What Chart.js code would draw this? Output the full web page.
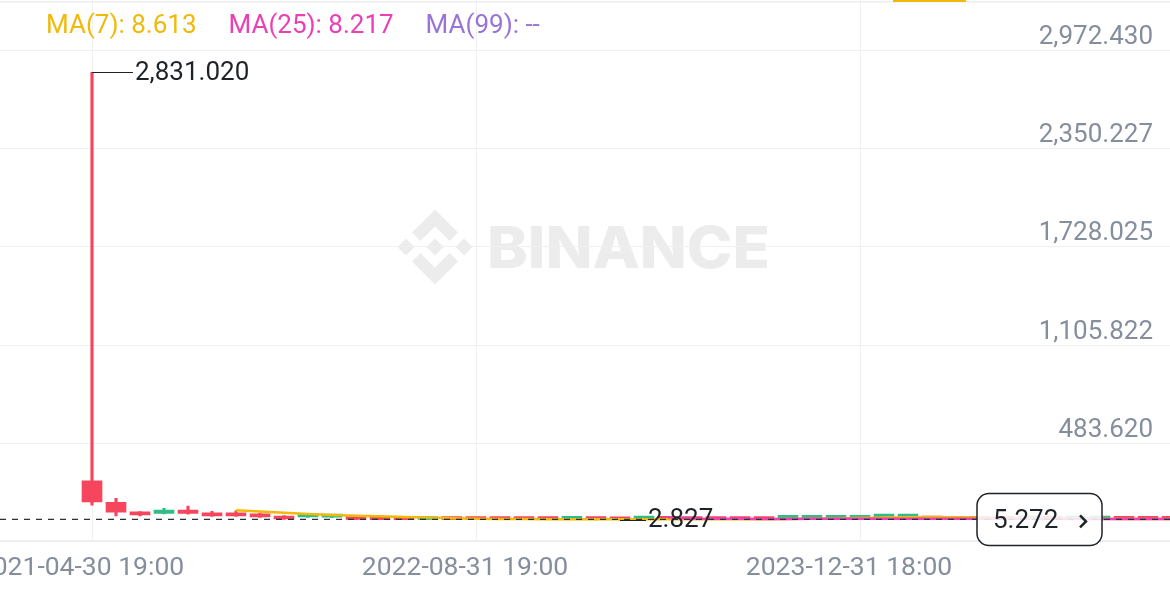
<!DOCTYPE html>
<html lang="en">
<head>
    <meta charset="UTF-8">
    <title>Monthly candles</title>
    <style>
        html, body {
            margin: 0;
            padding: 0;
            background: #fff;
        }
        .wrap {
            position: relative;
            width: 1170px;
            height: 605px;
        }
    </style>
</head>
<body>
    <div class="wrap"><canvas id="chart"></canvas></div>

    <script src="https://cdn.jsdelivr.net/npm/chart.js@4.4.1/dist/chart.umd.min.js"></script>
    <script>
        // one candle per month, first one is 2021-05
        const months = [
            '2021-05', '2021-06', '2021-07', '2021-08', '2021-09', '2021-10', '2021-11', '2021-12',
            '2022-01', '2022-02', '2022-03', '2022-04', '2022-05', '2022-06', '2022-07', '2022-08',
            '2022-09', '2022-10', '2022-11', '2022-12', '2023-01', '2023-02', '2023-03', '2023-04',
            '2023-05', '2023-06', '2023-07', '2023-08', '2023-09', '2023-10', '2023-11', '2023-12',
            '2024-01', '2024-02', '2024-03', '2024-04', '2024-05', '2024-06', '2024-07', '2024-08',
            '2024-09', '2024-10', '2024-11', '2024-12', '2025-01', '2025-02'
        ];
        const opens  = [249, 114, 49, 43, 64, 47, 47, 39, 25, 22, 20, 22, 12, 6, 5, 8, 7, 6.5, 6.2, 6, 6, 8, 6.5, 7,
                        8, 7, 6.8, 7, 6.5, 12, 13, 13, 12, 20, 21, 12, 10, 9, 8, 9, 8, 7, 8, 8, 7.5, 7];
        const highs  = [2831.02, 138, 55, 76, 89, 57, 60, 45, 30, 36, 30, 26, 14, 9, 16, 10, 9, 8, 8, 7.5, 20, 10, 8, 20,
                        12, 9, 8.5, 8, 7.5, 22, 23, 23, 18, 35, 36, 16, 13, 12, 11, 14, 12, 12, 20, 11, 10, 9];
        const lows   = [95, 28, 28, 40, 38, 25, 25, 18, 6, 18, 17, 4, 3.5, 3.2, 4.5, 3.5, 3.4, 3.3, 3.2, 3.1, 5, 3, 2.827, 6,
                        5, 4, 3.8, 3.5, 3.4, 11, 12, 12, 10, 15, 18, 5, 4.5, 4.5, 4.2, 5, 4.5, 5, 7, 4.5, 4.5, 4.2];
        const closes = [116, 51, 34, 64, 43, 28, 28, 22, 8, 32, 28, 5, 4, 4.2, 14, 4.5, 4.2, 4, 4, 3.8, 18, 4, 3.5, 17,
                        6, 5, 4.6, 4, 3.8, 20, 21, 21, 15, 31, 32, 7, 6, 6, 5.5, 10, 6, 9, 16, 6, 5.8, 5.272];

        // moving averages as shown, MA(7) from the 7th candle, MA(25) from the 25th
        const ma7 = [64, 55, 47, 40, 34, 29, 25, 21.5, 17, 13, 10, 8.5, 7.5, 7, 7, 6.5, 6.5, 7, 7,
                     7, 6.5, 6, 6, 8, 10, 12, 14, 17, 19, 20, 19, 17, 15, 12, 10, 9, 9, 8.8, 8.7, 8.6];
        const ma25 = [19, 12, 10, 9, 8.5, 8.5, 9, 9, 9, 9.5, 10, 10, 10, 9.8, 9.5, 9.2, 9, 8.8, 8.8, 8.5, 8.3, 8.2];

        const yTicks = [483.620, 1105.822, 1728.025, 2350.227, 2972.430];
        const xTickIdx = [0, 16, 32];
        const xTickLabels = ['2021-04-30 19:00', '2022-08-31 19:00', '2023-12-31 18:00'];
        const lastPrice = 5.272;
        const maNames = ['MA(7)', 'MA(25)', 'MA(99)'];
        const maLast = ['8.613', '8.217', '--'];
        const maColors = ['#f0b90b', '#eb40b5', '#9a73d6'];

        const UP = '#2ebd85';
        const DOWN = '#f6465d';
        const DARK = '#1e2329';
        const GREY = '#848e9c';
        const FONT = 'Roboto, "Noto Sans", sans-serif';

        const candleColors = closes.map((c, i) => c >= opens[i] ? UP : DOWN);
        const bodies = opens.map((o, i) => ({ x: i, y: [o, closes[i]] }));
        const wicks = lows.map((l, i) => ({ x: i, y: [l, highs[i]] }));

        function fmt(v) {
            return v.toLocaleString('en-US', { minimumFractionDigits: 3, maximumFractionDigits: 3 });
        }

        // binance logo paths (126.61 unit box)
        const logoPaths = [
            'M38.73 53.2l24.59-24.58 24.6 24.6 14.3-14.31L63.32 0 24.42 38.9l14.31 14.3z',
            'M0 63.31l14.3-14.31 14.31 14.31-14.31 14.3z',
            'M38.73 73.41l24.59 24.59 24.6-24.6 14.31 14.29-38.9 38.91-38.91-38.88-.02-.02 14.33-14.29z',
            'M98 63.31l14.3-14.31 14.31 14.3-14.31 14.32z',
            'M77.83 63.3L63.32 48.78 52.59 59.51l-1.24 1.23-2.54 2.54-.02.02.02.03 14.51 14.5 14.51-14.52.01-.01-.01-.01z'
        ];

        const decor = {
            id: 'decor',
            beforeDraw(chart) {
                const ctx = chart.ctx;
                ctx.save();
                // watermark
                ctx.fillStyle = '#ececec';
                ctx.save();
                ctx.translate(397.5, 209.5);
                ctx.scale(75 / 126.61, 75 / 126.61);
                logoPaths.forEach(p => ctx.fill(new Path2D(p)));
                ctx.restore();
                ctx.font = '800 58px Inter, Lato, sans-serif';
                ctx.textBaseline = 'alphabetic';
                const w = ctx.measureText('BINANCE').width;
                ctx.save();
                ctx.translate(487, 268);
                ctx.scale(283 / w, 1);
                ctx.fillText('BINANCE', 0, 0);
                ctx.restore();
                // top border line
                ctx.fillStyle = '#eceef0';
                ctx.fillRect(0, 1, chart.width, 1.5);
                ctx.restore();
            },
            afterDraw(chart) {
                const ctx = chart.ctx;
                const xs = chart.scales.x;
                const ys = chart.scales.y;
                const area = chart.chartArea;
                ctx.save();

                // last price dashed line
                const yP = ys.getPixelForValue(lastPrice);
                ctx.strokeStyle = '#2b3139';
                ctx.lineWidth = 1.3;
                ctx.setLineDash([6, 6]);
                ctx.beginPath();
                ctx.moveTo(area.left, yP);
                ctx.lineTo(area.right, yP);
                ctx.stroke();
                ctx.setLineDash([]);

                // high / low markers
                ctx.font = '26px ' + FONT;
                ctx.textBaseline = 'middle';
                ctx.textAlign = 'left';
                ctx.fillStyle = DARK;
                ctx.strokeStyle = DARK;
                ctx.lineWidth = 1;
                const hi = Math.max(...highs);
                const hiIdx = highs.indexOf(hi);
                const xh = xs.getPixelForValue(hiIdx);
                const yh = ys.getPixelForValue(hi);
                ctx.beginPath();
                ctx.moveTo(xh, Math.round(yh) + 0.5);
                ctx.lineTo(xh + 41, Math.round(yh) + 0.5);
                ctx.stroke();
                ctx.fillText(fmt(hi), xh + 43, yh + 1);

                const lo = Math.min(...lows);
                const loIdx = lows.indexOf(lo);
                const xl = xs.getPixelForValue(loIdx);
                const yl = ys.getPixelForValue(lo);
                ctx.beginPath();
                ctx.moveTo(xl, Math.round(yl) + 0.5);
                ctx.lineTo(xl + 26, Math.round(yl) + 0.5);
                ctx.stroke();
                ctx.fillText(fmt(lo), xl + 28, yl + 1);

                // price box
                ctx.beginPath();
                ctx.roundRect(977, yP - 26, 125, 52, 12);
                ctx.fillStyle = 'rgba(255,255,255,0.85)';
                ctx.fill();
                ctx.lineWidth = 1.5;
                ctx.strokeStyle = DARK;
                ctx.stroke();
                ctx.fillStyle = DARK;
                ctx.fillText(fmt(lastPrice), 993, yP + 2);
                ctx.lineWidth = 2.5;
                ctx.beginPath();
                ctx.moveTo(1080, yP - 4);
                ctx.lineTo(1086, yP + 2);
                ctx.lineTo(1080, yP + 8);
                ctx.stroke();

                // price axis labels sit above their grid lines
                ctx.fillStyle = GREY;
                ctx.textAlign = 'right';
                yTicks.forEach(v => {
                    ctx.fillText(fmt(v), 1153, ys.getPixelForValue(v) - 13);
                });

                // MA legend
                ctx.textAlign = 'left';
                let lx = 46;
                maNames.forEach((n, i) => {
                    const t = n + ': ' + maLast[i];
                    ctx.fillStyle = maColors[i];
                    ctx.fillText(t, lx, 26);
                    lx += ctx.measureText(t).width + 32;
                });

                // tab marker at the top
                ctx.fillStyle = '#f0b90b';
                ctx.fillRect(893, 0, 73, 2);
                ctx.restore();
            }
        };

        const ctx = document.getElementById('chart').getContext('2d');
        new Chart(ctx, {
            type: 'bar',
            data: {
                datasets: [
                    {
                        type: 'line',
                        label: maNames[1],
                        data: ma25.map((v, i) => ({ x: i + 24, y: v })),
                        borderColor: maColors[1],
                        borderWidth: 2.5,
                        pointRadius: 0,
                        order: 0
                    },
                    {
                        type: 'line',
                        label: maNames[0],
                        data: ma7.map((v, i) => ({ x: i + 6, y: v })),
                        borderColor: maColors[0],
                        borderWidth: 2.5,
                        pointRadius: 0,
                        order: 1
                    },
                    {
                        label: 'body',
                        data: bodies,
                        backgroundColor: candleColors,
                        barThickness: 20,
                        minBarLength: 3,
                        grouped: false,
                        order: 2
                    },
                    {
                        label: 'wick',
                        data: wicks,
                        backgroundColor: candleColors,
                        barThickness: 2.5,
                        grouped: false,
                        order: 3
                    }
                ]
            },
            options: {
                responsive: true,
                maintainAspectRatio: false,
                animation: false,
                layout: {
                    autoPadding: false,
                    padding: { left: 0, right: 0, top: 0, bottom: 10 }
                },
                plugins: {
                    legend: { display: false },
                    tooltip: { enabled: false }
                },
                scales: {
                    x: {
                        type: 'linear',
                        min: -92 / 24,
                        max: (1170 - 92) / 24,
                        bounds: 'data',
                        offset: false,
                        afterBuildTicks: s => { s.ticks = xTickIdx.map(v => ({ value: v })); },
                        // keep the first label from pushing the plot area right
                        afterFit: s => { s.paddingLeft = 0; s.paddingRight = 0; },
                        grid: { color: '#eff0f2', drawTicks: false, offset: false },
                        border: { color: '#eceef0', width: 2 },
                        ticks: {
                            autoSkip: false,
                            maxRotation: 0,
                            padding: 11,
                            labelOffset: -11,
                            color: GREY,
                            font: { family: FONT, size: 26.5 },
                            callback: v => {
                                const i = xTickIdx.indexOf(v);
                                return i >= 0 ? xTickLabels[i] : '';
                            }
                        }
                    },
                    y: {
                        type: 'linear',
                        position: 'right',
                        min: -132.2,
                        max: 3288.6,
                        bounds: 'data',
                        afterBuildTicks: s => { s.ticks = yTicks.map(v => ({ value: v })); },
                        grid: { color: '#eff0f2', drawTicks: false },
                        border: { display: false },
                        ticks: { display: false }
                    }
                }
            },
            plugins: [decor]
        });
    </script>
</body>
</html>
